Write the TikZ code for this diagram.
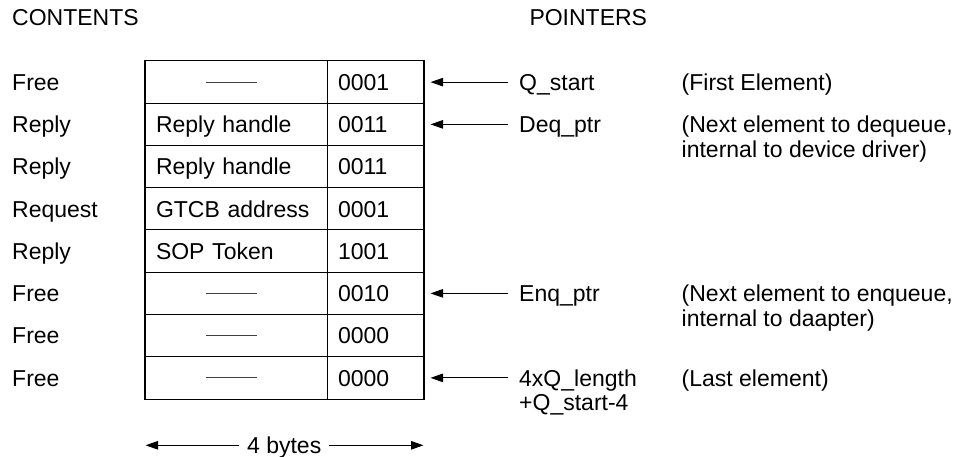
\documentclass[tikz,border=0pt]{standalone}
\usepackage{fontspec}
\setmainfont{Liberation Sans}
\usetikzlibrary{arrows.meta}
\newcommand\dashbar{\hspace*{50pt}{\color{black!75}\rule[7.8pt]{51pt}{0.9pt}}}
\begin{document}
\begin{tikzpicture}[x=1pt,y=-1pt,
  every node/.style={font=\fontsize{23}{25}\selectfont, inner sep=0pt},
  txt/.style={text height=16.4pt, text depth=0pt, anchor=west},
  cellA/.style={draw, line width=1pt, minimum height=42.25pt, text width=161pt, align=left,
    text height=16.4pt, text depth=0pt, inner xsep=10.5pt, inner ysep=0pt},
  cellB/.style={draw, line width=1pt, minimum height=42.25pt, text width=75pt, align=left,
    text height=16.4pt, text depth=0pt, inner xsep=10.5pt, inner ysep=0pt},
  ptr/.style={-{Triangle[length=12.5pt,width=8.5pt]}, line width=0.9pt},
]
\fill[white] (0,0) rectangle (964,457);
\useasboundingbox (0,0) rectangle (964,457);

% headers
\node[txt] (hcont) at (12,17.8) {CONTENTS};
\node[txt] (hptr) at (529.3,17.8) {POINTERS};

% table rows
\node[cellA] (a1) at (236.5,82.125) {\dashbar};
\node[cellB] (b1) at (375.5,82.125) {0001};
\node[cellA] (a2) at (236.5,124.375) {Reply handle};
\node[cellB] (b2) at (375.5,124.375) {0011};
\node[cellA] (a3) at (236.5,166.625) {Reply handle};
\node[cellB] (b3) at (375.5,166.625) {0011};
\node[cellA] (a4) at (236.5,208.875) {GTCB address};
\node[cellB] (b4) at (375.5,208.875) {0001};
\node[cellA] (a5) at (236.5,251.125) {SOP Token};
\node[cellB] (b5) at (375.5,251.125) {1001};
\node[cellA] (a6) at (236.5,293.375) {\dashbar};
\node[cellB] (b6) at (375.5,293.375) {0010};
\node[cellA] (a7) at (236.5,335.625) {\dashbar};
\node[cellB] (b7) at (375.5,335.625) {0000};
\node[cellA] (a8) at (236.5,377.875) {\dashbar};
\node[cellB] (b8) at (375.5,377.875) {0000};
\draw[line width=1.8pt] (a1.north west) rectangle (b8.south east);

% contents labels
\node[txt] (l1) at (12,82.125) {Free};
\node[txt] (l2) at (12,124.375) {Reply};
\node[txt] (l3) at (12,166.625) {Reply};
\node[txt] (l4) at (12,208.875) {Request};
\node[txt] (l5) at (12,251.125) {Reply};
\node[txt] (l6) at (12,293.375) {Free};
\node[txt] (l7) at (12,335.625) {Free};
\node[txt] (l8) at (12,377.875) {Free};

% pointers
\node[txt] (p1) at (519,82.125) {Q\_start};
\node[txt] (p2) at (519,124.375) {Deq\_ptr};
\node[txt] (p6) at (519,293.375) {Enq\_ptr};
\node[txt] (p8) at (519,377.875) {4xQ\_length};
\node[txt] (p8b) at (519,401.875) {+Q\_start-4};

\draw[ptr] ([xshift=-11pt]p1.west) -- ([xshift=6.5pt]b1.east);
\draw[ptr] ([xshift=-11pt]p2.west) -- ([xshift=6.5pt]b2.east);
\draw[ptr] ([xshift=-11pt]p6.west) -- ([xshift=6.5pt]b6.east);
\draw[ptr] ([xshift=-11pt]p8.west) -- ([xshift=6.5pt]b8.east);

% notes
\node[txt] (n1) at (681.5,82.125) {(First Element)};
\node[txt] (n2) at (681.5,124.375) {(Next element to dequeue,};
\node[txt] (n2b) at (681.5,149.375) {internal to device driver)};
\node[txt] (n6) at (681.5,293.375) {(Next element to enqueue,};
\node[txt] (n6b) at (681.5,318.375) {internal to daapter)};
\node[txt] (n8) at (681.5,377.875) {(Last element)};

% width indicator
\coordinate (bl) at (145.5,445.3);
\coordinate (br) at (423.5,445.3);
\node[text height=16.4pt, text depth=0pt] (bytes) at (284.2,445.3) {4 bytes};
\draw[ptr] ([xshift=-7.5pt]bytes.west) -- (bl);
\draw[ptr] ([xshift=7.5pt]bytes.east) -- (br);
\end{tikzpicture}
\end{document}
